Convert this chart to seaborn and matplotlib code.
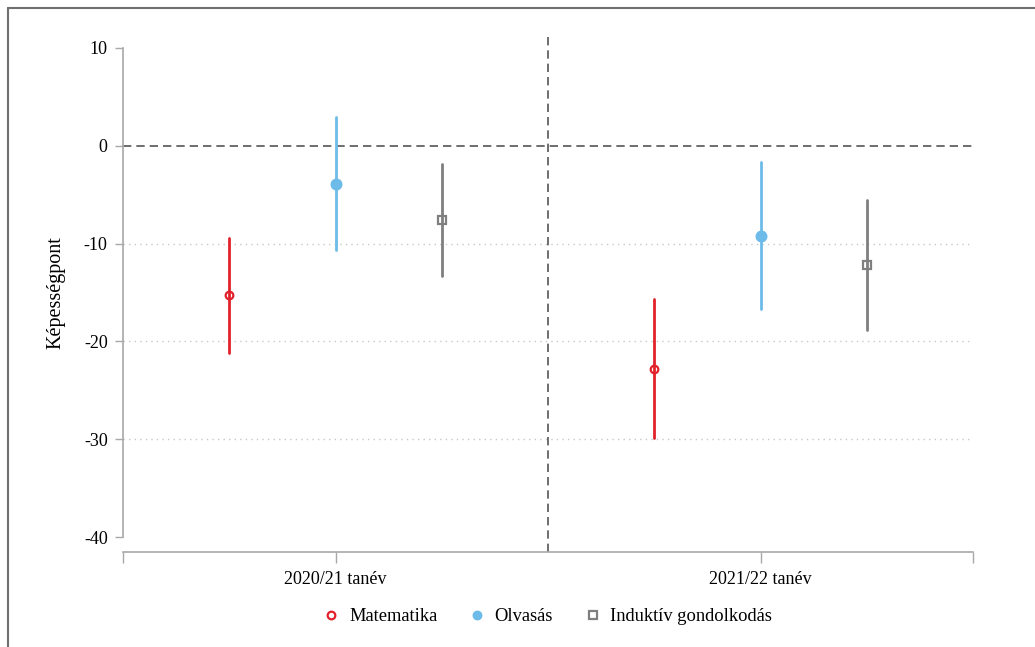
import matplotlib
matplotlib.use("Agg")
import matplotlib.pyplot as plt
from matplotlib.lines import Line2D
from matplotlib.colors import to_rgba
import seaborn as sns
import pandas as pd

# ---- data ----
years = ["2020/21 tanév", "2021/22 tanév"]
subjects = ["Matematika", "Olvasás", "Induktív gondolkodás"]

est_math = [-15.3, -22.8]
lo_math = [-21.2, -29.9]
hi_math = [-9.4, -15.7]

est_read = [-3.9, -9.2]
lo_read = [-10.7, -16.7]
hi_read = [2.9, -1.7]

est_ind = [-7.6, -12.2]
lo_ind = [-13.3, -18.8]
hi_ind = [-1.9, -5.6]

yticks = [10, 0, -10, -20, -30, -40]
gridlines = [-10, -20, -30]

colors = ["#E2222B", "#6DBBE8", "#7F7F7F"]
markers = ["o", "o", "s"]
hollow = [True, False, True]

rows = []
for subj, lo, est, hi in [
    (subjects[0], lo_math, est_math, hi_math),
    (subjects[1], lo_read, est_read, hi_read),
    (subjects[2], lo_ind, est_ind, hi_ind),
]:
    for i, yr in enumerate(years):
        for v in (lo[i], est[i], hi[i]):
            rows.append({"year": yr, "subject": subj, "value": v})
df = pd.DataFrame(rows)

sns.set_theme(style="white")
plt.rcParams["font.family"] = ["Liberation Serif", "DejaVu Serif"]
plt.rcParams["text.color"] = "black"
plt.rcParams["axes.labelcolor"] = "black"
plt.rcParams["xtick.color"] = "black"
plt.rcParams["ytick.color"] = "black"

fig = plt.figure(figsize=(10.35, 6.47), dpi=100)
ax = fig.add_axes([123 / 1035, 1 - 552 / 647, (973 - 123) / 1035, (552 - 33) / 647])

for g in gridlines:
    ax.axhline(g, color="#c8c8c8", linestyle=(0, (1, 3)), linewidth=1, zorder=0)
ax.axhline(0, color="#555555", linestyle=(0, (5, 3)), linewidth=1.2, zorder=1)
ax.axvline(0.5, color="#555555", linestyle=(0, (5, 3)), linewidth=1.2, zorder=1)

sns.pointplot(
    data=df, x="year", y="value", hue="subject",
    order=years, hue_order=subjects, palette=colors,
    estimator="median", errorbar=("pi", 100),
    markers=markers, linestyles="none", dodge=0.5,
    err_kws={"linewidth": 2}, markersize=6, markeredgewidth=1.6,
    legend=False, ax=ax,
)

for line in ax.lines:
    mk = line.get_marker()
    if mk in ("o", "s"):
        c = to_rgba(line.get_color())
        for col, h in zip(colors, hollow):
            if max(abs(a - b) for a, b in zip(c, to_rgba(col))) < 0.02:
                if h:
                    line.set_markerfacecolor("none")
                    line.set_markersize(5.5)
                else:
                    line.set_markersize(7)
        line.set_zorder(5)

ax.set_xlim(-0.5, 1.5)
ax.set_ylim(-41.5, 11.5)
ax.set_yticks(yticks)
ax.set_yticklabels([str(t) for t in yticks])
ax.set_xticks([-0.5, 0, 1, 1.5])
ax.set_xticklabels(["", years[0], years[1], ""])
ax.set_xlabel("")
ax.set_ylabel("Képességpont", fontsize=14.5, labelpad=13)

for s in ["top", "right"]:
    ax.spines[s].set_visible(False)
ax.spines["left"].set_bounds(-40, 10)
for s in ["left", "bottom"]:
    ax.spines[s].set_color("#a8a8a8")
    ax.spines[s].set_linewidth(1.2)
ax.tick_params(axis="y", length=6, width=1, color="#a8a8a8", labelcolor="black",
               labelsize=13, pad=5, left=True)
ax.tick_params(axis="x", length=8, width=1, color="#a8a8a8", labelcolor="black",
               labelsize=13, pad=6, bottom=True)
ax.grid(False)

handles = []
for subj, col, mk, h in zip(subjects, colors, markers, hollow):
    handles.append(Line2D([], [], linestyle="none", marker=mk, markersize=5.5,
                          markeredgewidth=1.6, color=col,
                          markerfacecolor="none" if h else col, label=subj))
ax.legend(handles=handles, loc="center", bbox_to_anchor=(0.5, -0.125), ncol=3,
          frameon=False, fontsize=13.3, handlelength=0.8, handletextpad=0.55,
          columnspacing=1.75)

# outer frame (left and top edges visible)
fx = 8 / 1035
fy = 1 - 8 / 647
fig.add_artist(Line2D([fx, fx], [0, fy], transform=fig.transFigure, color="#707070", linewidth=1.5))
fig.add_artist(Line2D([fx, 1], [fy, fy], transform=fig.transFigure, color="#707070", linewidth=1.5))

fig.savefig("out.png", dpi=100, facecolor="white")
